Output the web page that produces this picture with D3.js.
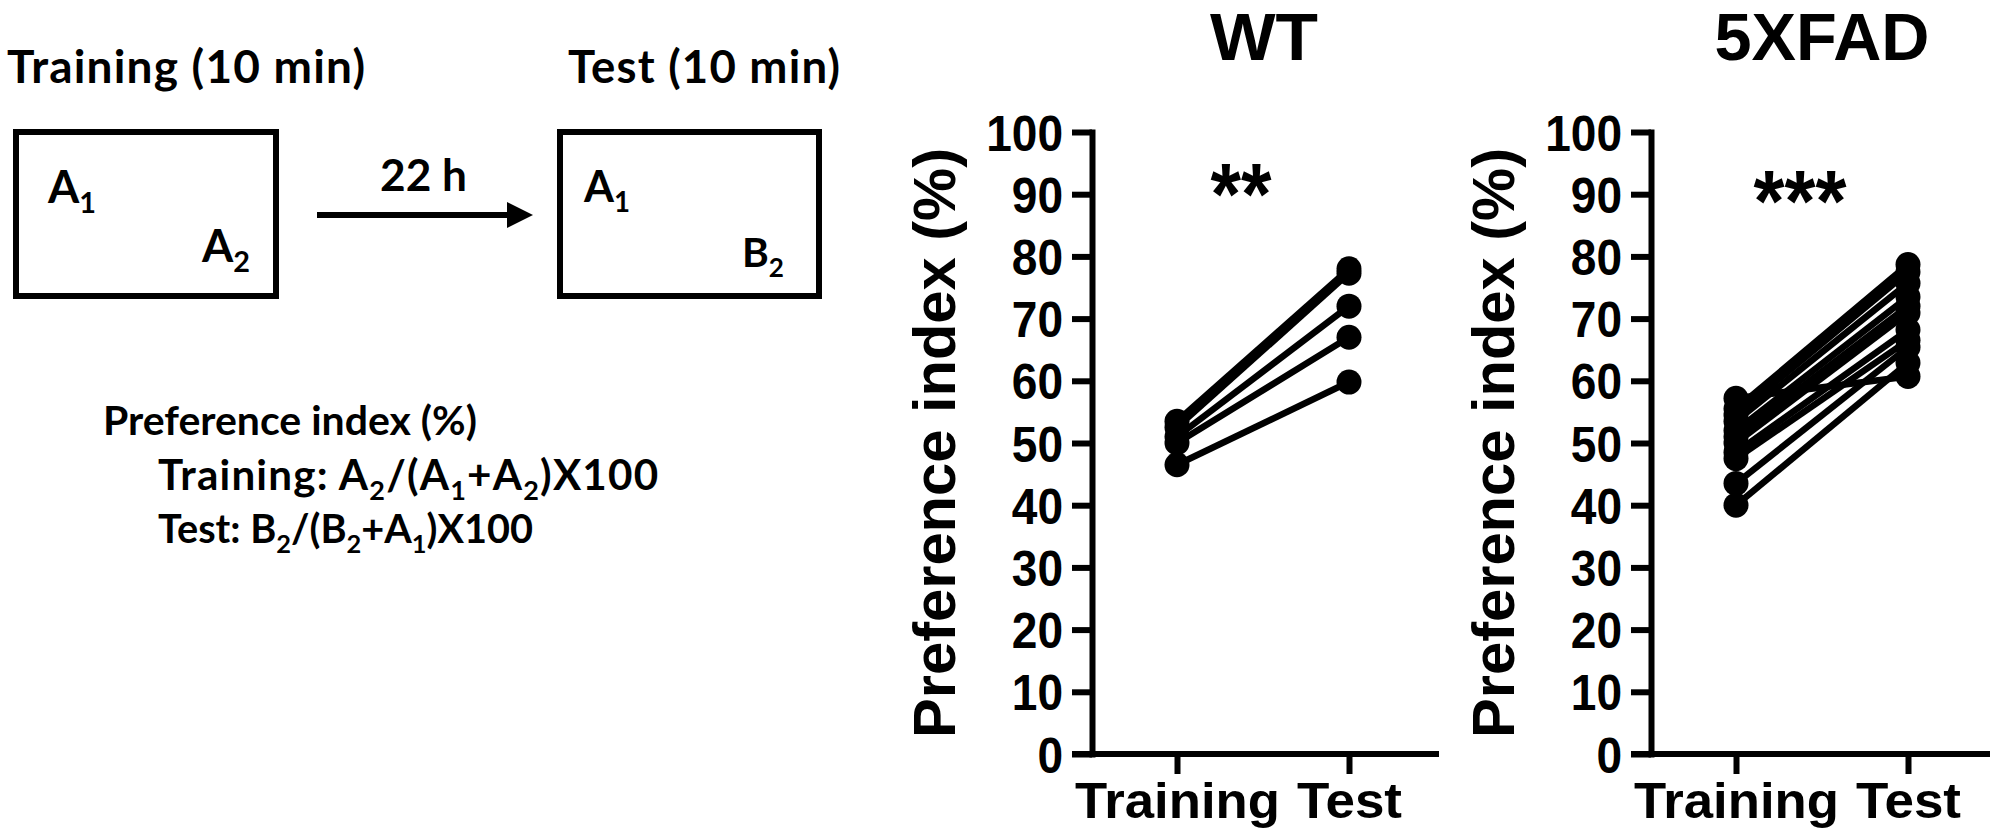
<!DOCTYPE html>
<html>
<head>
<meta charset="utf-8">
<script src="https://cdn.jsdelivr.net/npm/d3@7"></script>
<style>
  html, body { margin: 0; padding: 0; background: #fff; }
  svg { display: block; }
</style>
</head>
<body>
<svg id="chart" width="2000" height="835"></svg>
<script>
// ---------------- data ----------------
const groups = ["WT", "5XFAD"];
const categories = ["Training", "Test"];
const yTicks = [0, 10, 20, 30, 40, 50, 60, 70, 80, 90, 100];
const significance = ["**", "***"];

const wtTraining  = [53.5, 52.5, 51.0, 50.0, 46.5];
const wtTest      = [78.0, 77.3, 72.0, 67.0, 59.8];

const fadTraining = [57.2, 55.5, 54.5, 53.5, 52.0, 51.0, 50.0, 48.5, 47.5, 43.5, 40.0];
const fadTest     = [60.7, 78.7, 77.5, 75.7, 73.5, 72.0, 70.9, 68.2, 66.5, 65.4, 62.9];

const seriesByGroup = [
  { training: wtTraining, test: wtTest },
  { training: fadTraining, test: fadTest }
];

// ---------------- layout ----------------
const svg = d3.select("#chart");
const ink = "#000";
const armFont = "'Liberation Sans', Arial, sans-serif";
const calFont = "Lato, 'Open Sans', sans-serif";

// ---------- left schematic ----------
const left = svg.append("g");

function buildCal(parts, x, y, size) {
  const t = left.append("text")
    .attr("x", x).attr("y", y)
    .attr("font-family", calFont).attr("font-weight", 700)
    .attr("font-size", size).attr("fill", ink);
  let shifted = 0, nChars = 0;
  const subShift = 10;
  parts.forEach(p => {
    const sub = p.startsWith("_");
    const txt = sub ? p.slice(1) : p;
    const dy = (sub ? subShift : 0) - shifted;
    shifted = sub ? subShift : 0;
    nChars += txt.length;
    t.append("tspan").attr("dy", dy).attr("font-size", sub ? size * 0.64 : size).text(txt);
  });
  return { t, nChars };
}
// size from cap height; width matched by a little positive letter-spacing, else by size
function calText(parts, x, y, width, capH) {
  let size = capH / 0.70;
  const probe = buildCal(parts, x, y, size);
  const w = probe.t.node().getComputedTextLength();
  const gaps = Math.max(1, probe.nChars - 1);
  let ls = (width - w) / gaps;
  probe.t.remove();
  if (ls < 0) { size = size * width / w; ls = 0; }
  else if (ls > 1.2) { const rest = width - 1.2 * gaps; size = size * rest / w; ls = 1.2; }
  const out = buildCal(parts, x, y, size);
  out.t.attr("letter-spacing", ls.toFixed(2));
  return out.t;
}

calText(["Training (10 min)"], 7, 83, 358, 31);
calText(["Test (10 min)"], 568, 83, 272, 31);

left.append("rect").attr("x", 16).attr("y", 132).attr("width", 260).attr("height", 164)
  .attr("fill", "none").attr("stroke", ink).attr("stroke-width", 6);
left.append("rect").attr("x", 560).attr("y", 132).attr("width", 259).attr("height", 164)
  .attr("fill", "none").attr("stroke", ink).attr("stroke-width", 6);

calText(["A", "_1"], 48, 203, 48, 33);
calText(["A", "_2"], 202, 262, 48, 33);
calText(["A", "_1"], 584, 202, 46, 33);
calText(["B", "_2"], 742, 267, 42, 33);
calText(["22 h"], 380, 191, 87, 32);

left.append("line").attr("x1", 317).attr("x2", 512).attr("y1", 215).attr("y2", 215)
  .attr("stroke", ink).attr("stroke-width", 6);
left.append("path").attr("d", "M507,202 L533,215 L507,228 Z").attr("fill", ink);

calText(["Preference index (%)"], 103, 435, 374, 30);
calText(["Training: A", "_2", "/(A", "_1", "+A", "_2", ")X100"], 158, 490, 500, 29);
calText(["Test: B", "_2", "/(B", "_2", "+A", "_1", ")X100"], 158, 543, 375, 29);

// ---------- charts ----------
const panels = [
  { axisX: 1092, xRight: 1439, ticks: [1177, 1349], title: 1264, titleW: 108, titleY: 60,
    star: 1241, starY: 224, starW: 61, labelX: 955 },
  { axisX: 1651, xRight: 1990, ticks: [1736, 1908], title: 1822, titleW: 215, titleY: 60,
    star: 1800, starY: 231, starW: 93, labelX: 1514 }
];
const yTop = 132, yBottom = 754, tickLen = 20;

panels.forEach((p, gi) => {
  const g = svg.append("g");
  const y = d3.scaleLinear().domain([0, 100]).range([yBottom, yTop]);
  const x = d3.scalePoint().domain(categories).range(p.ticks);

  // y axis
  const ya = g.append("g").attr("transform", `translate(${p.axisX},0)`)
    .call(d3.axisLeft(y).tickValues(yTicks).tickSize(tickLen).tickSizeOuter(0).tickPadding(9));
  ya.select(".domain").attr("stroke", ink).attr("stroke-width", 6).attr("stroke-linecap", "square");
  ya.selectAll(".tick line").attr("stroke", ink).attr("stroke-width", 6);
  ya.selectAll(".tick text")
    .attr("font-family", armFont).attr("font-weight", 700).attr("font-size", 50)
    .attr("fill", ink).attr("dy", "0.36em")
    .attr("textLength", d => String(d).length * 25.6).attr("lengthAdjust", "spacingAndGlyphs");

  // x axis
  g.append("line").attr("x1", p.axisX - tickLen).attr("x2", p.xRight)
    .attr("y1", yBottom).attr("y2", yBottom).attr("stroke", ink).attr("stroke-width", 6);
  const xa = g.append("g").attr("transform", `translate(0,${yBottom})`)
    .call(d3.axisBottom(x).tickSize(tickLen).tickSizeOuter(0).tickPadding(14));
  xa.select(".domain").remove();
  xa.selectAll(".tick line").attr("stroke", ink).attr("stroke-width", 6);
  xa.selectAll(".tick text")
    .attr("font-family", armFont).attr("font-weight", 700).attr("font-size", 50)
    .attr("fill", ink).attr("dy", "0.6em")
    .attr("textLength", d => d === "Training" ? 205 : 105).attr("lengthAdjust", "spacingAndGlyphs");

  // y label
  g.append("text")
    .attr("transform", `translate(${p.labelX},${(yTop + yBottom) / 2}) rotate(-90)`)
    .attr("text-anchor", "middle")
    .attr("font-family", armFont).attr("font-weight", 700).attr("font-size", 60).attr("fill", ink)
    .attr("textLength", 590).attr("lengthAdjust", "spacingAndGlyphs")
    .text("Preference index (%)");

  // title
  g.append("text").attr("x", p.title).attr("y", p.titleY).attr("text-anchor", "middle")
    .attr("font-family", armFont).attr("font-weight", 700)
    .attr("font-size", 66).attr("fill", ink)
    .attr("textLength", p.titleW).attr("lengthAdjust", "spacingAndGlyphs")
    .text(groups[gi]);

  // significance
  g.append("text").attr("x", p.star).attr("y", p.starY).attr("text-anchor", "middle")
    .attr("font-family", armFont).attr("font-weight", 700)
    .attr("font-size", 88).attr("fill", ink)
    .attr("textLength", p.starW).attr("lengthAdjust", "spacingAndGlyphs")
    .text(significance[gi]);

  // data
  const s = seriesByGroup[gi];
  const pairs = s.training.map((v, i) => [v, s.test[i]]);
  g.append("g").selectAll("line").data(pairs).join("line")
    .attr("x1", x("Training")).attr("x2", x("Test"))
    .attr("y1", d => y(d[0])).attr("y2", d => y(d[1]))
    .attr("stroke", ink).attr("stroke-width", 6.5);
  const pts = [];
  s.training.forEach(v => pts.push(["Training", v]));
  s.test.forEach(v => pts.push(["Test", v]));
  g.append("g").selectAll("circle").data(pts).join("circle")
    .attr("cx", d => x(d[0])).attr("cy", d => y(d[1])).attr("r", 12.5).attr("fill", ink);
});
</script>
</body>
</html>
